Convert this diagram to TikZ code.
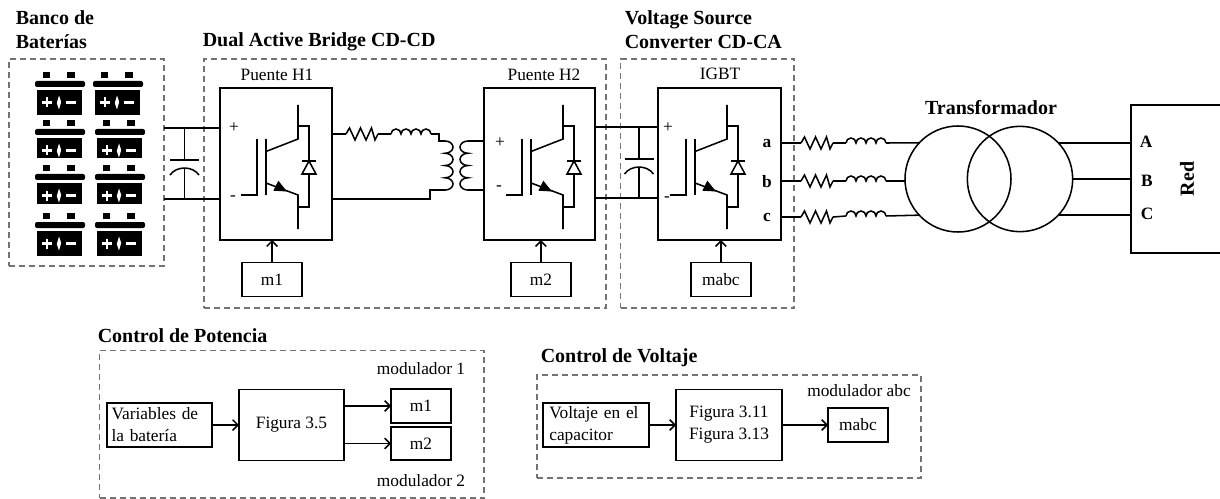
\documentclass[tikz,border=0pt]{standalone}
\usepackage{fontspec}
\setmainfont{Liberation Serif}
\usetikzlibrary {positioning}
\usetikzlibrary {arrows.meta}
\tikzset{
	pics/igbt/.style={code={
		\draw (20.5,-107) -- (37,-107) -- (37,-51);
		\draw (46,-51) -- (46,-107);
		\draw (78,-17) -- (78,-51) -- (46,-63.5);
		\draw (46,-95) -- (78,-107) -- (78,-141);
		\draw (78,-38) -- (89,-38) -- (89,-119) -- (78,-119);
		\fill (53.3,-102.7) -- (58.3,-92.7) -- (67,-103.5) -- cycle;
		\draw [fill=white] (82,-86) -- (89,-73) -- (96,-86) -- cycle;
		\draw (82,-73) -- (96,-73);
	}},
	pics/resistor/.style={code={
		\draw (0,0) -- (3.5,6) -- (9,-6) -- (14.5,6) -- (20,-6) -- (25.5,6) -- (29,-6) -- (32,0);
		\coordinate (-out) at (32,0);
	}},
	pics/inductor/.style={code={
		\draw (0,0) arc (180:0:3.75pt) arc (180:0:3.75pt) arc (180:0:3.75pt) arc (180:0:3.75pt);
		\coordinate (-out) at (40,0);
	}},
	pics/winding/.style={code={
		\draw (0,0) arc [start angle=90,end angle=-90,x radius=6pt,y radius=4.6pt]
			arc [start angle=90,end angle=-90,x radius=6pt,y radius=4.6pt]
			arc [start angle=90,end angle=-90,x radius=6pt,y radius=4.6pt]
			arc [start angle=90,end angle=-90,x radius=6pt,y radius=4.6pt];
		\coordinate (-out) at (0,-49);
	}},
	pics/capacitor/.style={code={
		\draw (0,0) -- (0,-32);
		\draw (-14.5,-32) -- (14.5,-32);
		\draw (-14.5,-47) .. controls (-8,-37.7) and (8,-37.7) .. (14.5,-47);
		\draw (0,-40) -- (0,-71);
	}},
	pics/battery/.style={code={
		\fill (8,0) rectangle (15,-6);
		\fill (32,0) rectangle (40,-6);
		\fill [rounded corners=1.5pt] (0,-9) rectangle (50,-15);
		\fill (2,-18) rectangle (47,-18-#1);
		\draw [white,line width=2.2pt] (7,-30.5) -- (17,-30.5) (12,-25.5) -- (12,-35.5);
		\fill [white] (24,-23.5) -- (26.2,-30) -- (24,-37.5) -- (21.8,-31) -- cycle;
		\draw [white,line width=2.2pt] (31,-30.5) -- (41,-30.5);
	}}
}
\begin{document}
\begin{tikzpicture}
	[x=0.75pt,y=0.75pt,line width=1.15pt,>={Straight Barb[length=4pt,width=8pt]},
	boxsize/.style 2 args={minimum width=#1*0.75pt,minimum height=#2*0.75pt},
	block/.style={rectangle,draw,inner sep=0pt,outer sep=0pt,align=center,font=\fontsize{13}{16.5}\selectfont},
	framebox/.style={rectangle,draw=black!55,line width=0.9pt,dash pattern=on 4.5pt off 3pt,inner sep=0pt,outer sep=0pt,anchor=north west},
	lbl/.style={inner sep=0pt,align=center,font=\fontsize{13}{16.5}\selectfont},
	lblb/.style={inner sep=0pt,align=center,font=\fontsize{13}{16.5}\selectfont\bfseries},
	ttl/.style={inner sep=0pt,align=left,font=\fontsize{15}{18}\selectfont\bfseries}]
	\useasboundingbox (0,0) rectangle (1220,-499);
	\node[framebox,boxsize={155}{207}] (bank) at (9,-59) {};
	\node[framebox,boxsize={402}{249}] (dab) at (204,-59) {};
	\node[framebox,boxsize={173.5}{249}] (vsc) at (620.5,-59) {};
	\node[framebox,boxsize={384.5}{147.5}] (ctlp) at (99.5,-350.5) {};
	\node[framebox,boxsize={384}{103}] (ctlv) at (537,-375) {};
	\node[ttl,anchor=west] (tbank) at (15,-30) {Banco de\\Baterías};
	\node[ttl,anchor=west] (tdab) at (202,-42) {Dual Active Bridge CD-CD};
	\node[ttl,anchor=west] (tvsc) at (624,-30) {Voltage Source\\Converter CD-CA};
	\node[ttl,anchor=west] (tctlp) at (97,-336) {Control de Potencia};
	\node[ttl,anchor=west] (tctlv) at (540,-358) {Control de Voltaje};
	\node[ttl] (txfmr) at (991,-108) {Transformador};
	% bancos
	\pic at (35,-72) {battery=25};
	\pic at (93,-72) {battery=25};
	\pic at (35,-120) {battery=20};
	\pic at (95,-120) {battery=20};
	\pic at (35,-165) {battery=21};
	\pic at (95,-165) {battery=21};
	\pic at (35,-213) {battery=25};
	\pic at (95,-213) {battery=25};
	% puentes
	\node[block,boxsize={112}{152},anchor=north west] (h1) at (220,-88) {};
	\node[block,boxsize={111}{152}] (h2) [right=114pt of h1] {};
	\node[block,boxsize={123}{152}] (igbt) [right=47.25pt of h2] {};
	\node[lbl] (nh1) at (277,-75) {Puente H1};
	\node[lbl] (nh2) at (544,-75) {Puente H2};
	\node[lbl] (nigbt) at (720,-74) {IGBT};
	\pic at (220,-88) {igbt};
	\pic at (485,-88) {igbt};
	\pic at (649,-88) {igbt};
	\node[block,boxsize={60}{34}] (m1) [below=17pt of h1,xshift=-3pt] {m1};
	\node[block,boxsize={60}{34}] (m2) [below=17pt of h2,xshift=1pt] {m2};
	\node[block,boxsize={60}{34}] (mabc) [below=17pt of igbt,xshift=1pt] {mabc};
	\draw [->] (m1.north) -- (m1.north |- h1.south);
	\draw [->] (m2.north) -- (m2.north |- h2.south);
	\draw [->] (mabc.north) -- (mabc.north |- igbt.south);
	\node[lbl] (p1) at (234,-128) {+};
	\node[lbl] (n1) at (233,-198) {-};
	\node[lbl] (p2) at (500,-143) {+};
	\node[lbl] (n2) at (499,-188) {-};
	\node[lbl] (p3) at (668,-128) {+};
	\node[lbl] (n3) at (667,-199) {-};
	% bus CD
	\coordinate (h1plus) at (220,-128);
	\coordinate (h1minus) at (220,-199);
	\coordinate (igbtplus) at (658,-127);
	\coordinate (igbtminus) at (658,-198);
	\draw (bank.east |- h1plus) -- (h1plus);
	\draw (bank.east |- h1minus) -- (h1minus);
	\pic at (184.5,-128) {capacitor};
	\draw (h2.east |- igbtplus) -- (igbtplus);
	\draw (h2.east |- igbtminus) -- (igbtminus);
	\pic at (639,-127) {capacitor};
	% enlace
	\pic (r1) at (346,-134) {resistor};
	\pic (l1) at (391,-134) {inductor};
	\pic (w1) at (445,-141) {winding};
	\pic[xscale=-1] (w2) at (468,-141) {winding};
	\draw (h1.east |- r1-out) -- (346,-134);
	\draw (r1-out) -- (391,-134);
	\draw (l1-out) -- ++(8,0) |- (445,-141);
	\draw (w1-out) -- ++(-15,0) |- (h1.east |- h1minus);
	\draw (468,-141) -- (h2.west |- 468,-141);
	\draw (w2-out) -- (h2.west |- w2-out);
	% fases
	\node[lblb] (fa) at (767,-144) {a};
	\node[lblb] (fb) at (767,-182) {b};
	\node[lblb] (fc) at (767,-217) {c};
	\pic (ra) at (801,-143) {resistor};
	\pic (rb) at (801,-181) {resistor};
	\pic (rc) at (801,-217) {resistor};
	\pic (la) at (846,-143) {inductor};
	\pic (lb) at (846,-181) {inductor};
	\pic (lc) at (846,-216) {inductor};
	\node[circle,draw,inner sep=0pt,outer sep=0pt,minimum size=79.5pt] (xfl) at (958,-179) {};
	\node[circle,draw,inner sep=0pt,outer sep=0pt,minimum size=79pt] (xfr) at (1020,-179) {};
	\node[block,boxsize={91}{148},anchor=north west] (red) at (1131,-105) {};
	\draw (igbt.east |- ra-out) -- (801,-143);
	\draw (igbt.east |- rb-out) -- (801,-181);
	\draw (igbt.east |- rc-out) -- (801,-217);
	\draw (ra-out) -- (846,-143);
	\draw (rb-out) -- (846,-181);
	\draw (rc-out) -- (846,-216);
	\draw (la-out) -- (xfl.137);
	\draw (lb-out) -- (xfl.west |- lb-out);
	\draw (lc-out) -- (xfl.223);
	\draw (xfr.43) -- (red.west |- xfr.43);
	\draw (xfr.east) -- (red.west |- xfr.east);
	\draw (xfr.317) -- (red.west |- xfr.317);
	\node[lblb] (fA) at (1146,-142) {A};
	\node[lblb] (fB) at (1147,-181) {B};
	\node[lblb] (fC) at (1147,-214) {C};
	\node[ttl,rotate=90] (nred) at (1187,-179) {Red};
	% control de potencia
	\node[block,boxsize={105}{44},anchor=north west,text width=72pt,align=left] (vars) at (107,-403) {Variables de\\la batería};
	\node[block,boxsize={105}{71}] (fig1) [right=20.25pt of vars] {Figura 3.5};
	\node[block,boxsize={60}{34},anchor=north west] (cm1) at (391,-389) {m1};
	\node[block,boxsize={60}{33}] (cm2) [below=3pt of cm1] {m2};
	\node[lbl] (mod1) at (421,-369) {modulador 1};
	\node[lbl] (mod2) at (421,-481) {modulador 2};
	\draw [->] (vars.east) -- (fig1.west);
	\draw [->] (fig1.east |- cm1.west) -- (cm1.west);
	\draw [->] (fig1.east |- cm2.west) -- (cm2.west);
	% control de voltaje
	\node[block,boxsize={106}{44},anchor=north west,text width=70pt,align=left] (volt) at (543,-403) {Voltaje en el\\capacitor};
	\node[block,boxsize={106}{71}] (fig2) [right=20.25pt of volt] {Figura 3.11\\Figura 3.13};
	\node[block,boxsize={60}{34}] (cmabc) [right=34.5pt of fig2] {mabc};
	\node[lbl] (modabc) at (859,-391) {modulador abc};
	\draw [->] (volt.east) -- (fig2.west);
	\draw [->] (fig2.east) -- (cmabc.west);
\end{tikzpicture}
\end{document}
